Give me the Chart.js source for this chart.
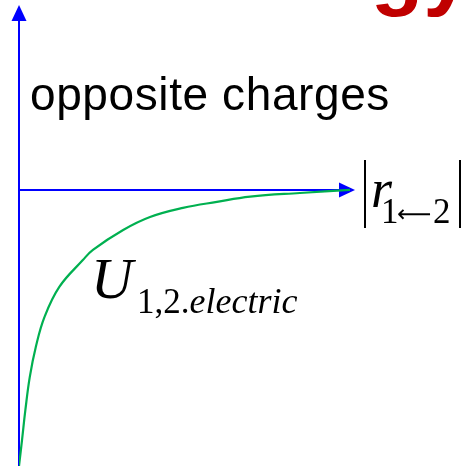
<!DOCTYPE html>
<html>
<head>
<meta charset="utf-8">
<script src="https://cdn.jsdelivr.net/npm/chart.js@4/dist/chart.umd.min.js"></script>
<style>
  html, body { margin: 0; padding: 0; background: #fff; }
  #wrap { width: 466px; height: 466px; position: relative; }
</style>
</head>
<body>
<div id="wrap"><canvas id="chart"></canvas></div>
<script>
// separation |r| (arbitrary units) and potential energy U for opposite charges
const rValues = [0.0, 0.09, 0.19, 0.32, 0.50, 0.76, 1.20, 1.90, 2.20, 3.10, 3.90, 4.88, 5.89, 6.88, 8.36, 9.85];
const uValues = [-10.0, -9.06, -7.97, -6.78, -5.69, -4.60, -3.51, -2.54, -2.17, -1.45, -0.98, -0.65, -0.43, -0.24, -0.11, 0.0];

const rRange = [0, 10];
const uRange = [-10, 6.7];

const points = rValues.map((r, i) => ({ x: r, y: uValues[i] }));

const AXIS_BLUE = "#0000ff";
const CURVE_GREEN = "#00b050";

function arrowHead(ctx, x, y, dir) {
  // dir: "up" or "right"
  ctx.beginPath();
  if (dir === "up") {
    ctx.moveTo(x, y);
    ctx.lineTo(x - 7.5, y + 16);
    ctx.lineTo(x + 7.5, y + 16);
  } else {
    ctx.moveTo(x, y);
    ctx.lineTo(x - 16, y - 7.5);
    ctx.lineTo(x - 16, y + 7.5);
  }
  ctx.closePath();
  ctx.fill();
}

// axes with arrow heads, drawn from the scales
const axesPlugin = {
  id: "axes",
  beforeDatasetsDraw(chart) {
    const { ctx, scales } = chart;
    const x0 = scales.x.getPixelForValue(0);
    const y0 = scales.y.getPixelForValue(0);
    const xEnd = scales.x.getPixelForValue(rRange[1]);
    const yTop = scales.y.getPixelForValue(uRange[1]);
    const yBottom = chart.height;

    ctx.save();
    ctx.strokeStyle = AXIS_BLUE;
    ctx.fillStyle = AXIS_BLUE;
    ctx.lineWidth = 2;
    ctx.beginPath();
    ctx.moveTo(x0, yBottom);
    ctx.lineTo(x0, yTop + 10);
    ctx.moveTo(x0, y0);
    ctx.lineTo(xEnd - 10, y0);
    ctx.stroke();
    arrowHead(ctx, x0, yTop, "up");
    arrowHead(ctx, xEnd, y0, "right");
    ctx.restore();
  }
};

// title fragment, caption and math labels
const labelsPlugin = {
  id: "labels",
  afterDraw(chart) {
    const { ctx } = chart;
    const serif = "'Liberation Serif', 'Times New Roman', serif";
    ctx.save();
    ctx.textBaseline = "alphabetic";

    // title runs off the top edge, only the descenders show
    ctx.fillStyle = "#c00000";
    ctx.font = "bold 86px 'Liberation Sans', Arial, sans-serif";
    ctx.textAlign = "right";
    ctx.fillText("Energy", 471, -1);

    ctx.textAlign = "left";
    ctx.fillStyle = "#000";
    ctx.font = "46px 'Liberation Sans', Arial, sans-serif";
    ctx.letterSpacing = "0.6px";
    ctx.fillText("opposite charges", 30, 110);
    ctx.letterSpacing = "0px";

    // |r 1<-2|
    ctx.strokeStyle = "#000";
    ctx.lineWidth = 2;
    ctx.beginPath();
    ctx.moveTo(365, 160);
    ctx.lineTo(365, 228);
    ctx.moveTo(460, 160);
    ctx.lineTo(460, 228);
    ctx.stroke();
    ctx.font = "italic 54px " + serif;
    ctx.fillText("r", 371, 207);
    ctx.font = "35px " + serif;
    ctx.fillText("1", 381, 223);
    ctx.fillText("2", 433, 223);
    ctx.font = "24px 'DejaVu Sans', sans-serif";
    ctx.fillText("\u27F5", 397, 222);

    // U 1,2.electric
    ctx.font = "italic 58px " + serif;
    ctx.fillText("U", 91, 298);
    ctx.font = "35px " + serif;
    ctx.fillText("1,2.", 137, 313);
    const w = ctx.measureText("1,2.").width;
    ctx.font = "italic 36px " + serif;
    ctx.fillText("electric", 137 + w, 313);

    ctx.restore();
  }
};

new Chart(document.getElementById("chart"), {
  type: "scatter",
  data: {
    datasets: [{
      data: points,
      showLine: true,
      borderColor: CURVE_GREEN,
      borderWidth: 2.2,
      pointRadius: 0,
      tension: 0.4,
      fill: false
    }]
  },
  options: {
    responsive: true,
    maintainAspectRatio: false,
    animation: false,
    layout: { padding: { left: 19, right: 111, top: 5, bottom: 0 } },
    plugins: { legend: { display: false }, tooltip: { enabled: false } },
    scales: {
      x: { type: "linear", min: rRange[0], max: rRange[1], display: false },
      y: { type: "linear", min: uRange[0], max: uRange[1], display: false }
    }
  },
  plugins: [axesPlugin, labelsPlugin]
});
</script>
</body>
</html>
